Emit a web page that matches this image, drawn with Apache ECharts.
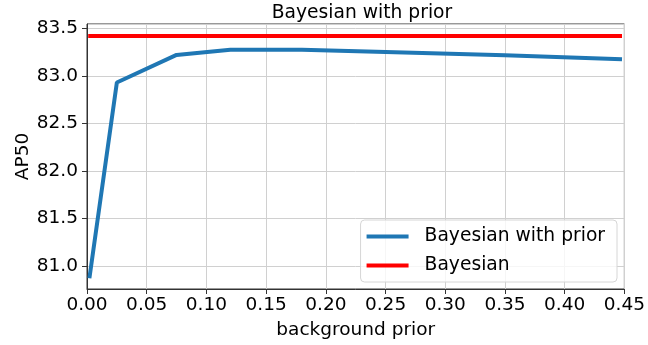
<!DOCTYPE html>
<html>
<head>
<meta charset="utf-8">
<script src="https://cdn.jsdelivr.net/npm/echarts@6/dist/echarts.min.js"></script>
<style>
  html, body { margin: 0; padding: 0; background: #fff; }
  #chart { width: 648px; height: 345px; }
</style>
</head>
<body>
<div id="chart"></div>
<script>
// background prior values on the x axis
var priorX = [0.002, 0.025, 0.075, 0.12, 0.18, 0.25, 0.35, 0.448];
// AP50 for the "with prior" run
var withPriorAP = [80.87, 82.93, 83.22, 83.275, 83.275, 83.25, 83.215, 83.175];
// plain Bayesian baseline (constant)
var baselineX = [0.001, 0.448];
var baselineAP = [83.42, 83.42];

var FONT = 'DejaVu Sans';

function pairs(xs, ys) {
    var arr = [];
    for (var i = 0; i < xs.length; i++) {
        arr.push([xs[i], ys[i]]);
    }
    return arr;
}

var chart = echarts.init(document.getElementById('chart'), null, { renderer: 'canvas' });

var option = {
    animation: false,
    backgroundColor: '#fff',
    title: {
        text: 'Bayesian with prior',
        left: 357,
        top: -1,
        textAlign: 'center',
        textStyle: { fontFamily: FONT, fontSize: 18.7, fontWeight: 'normal', color: '#000' }
    },
    grid: {
        left: 87,
        right: 22,
        top: 24,
        bottom: 53,
        show: true,
        borderColor: '#333',
        borderWidth: 1,
        backgroundColor: 'transparent'
    },
    legend: {
        orient: 'vertical',
        right: 31,
        top: 220,
        icon: 'rect',
        itemWidth: 42,
        itemHeight: 4,
        itemGap: 8,
        padding: [6, 12, 6, 6],
        backgroundColor: 'rgba(255,255,255,0.8)',
        borderColor: '#d6d6d6',
        borderWidth: 1,
        borderRadius: 4,
        textStyle: { fontFamily: FONT, fontSize: 18.7, color: '#000', lineHeight: 21, padding: [0, 0, 0, 11] },
        data: ['Bayesian with prior', 'Bayesian']
    },
    xAxis: {
        type: 'value',
        min: 0,
        max: 0.45,
        interval: 0.05,
        name: 'background prior',
        nameLocation: 'middle',
        nameGap: 32,
        nameMoveOverlap: false,
        nameTextStyle: { fontFamily: FONT, fontSize: 18.5, color: '#000' },
        axisLine: { show: true, lineStyle: { color: '#333', width: 1 } },
        axisTick: { show: true, length: 5, lineStyle: { color: '#333' } },
        axisLabel: {
            fontFamily: FONT, fontSize: 18.5, color: '#000', margin: 7,
            formatter: function (v) { return v.toFixed(2); }
        },
        splitLine: { show: true, lineStyle: { color: '#d0d0d0', width: 1 } }
    },
    yAxis: {
        type: 'value',
        min: 80.757,
        max: 83.545,
        splitNumber: 5,
        name: 'AP50',
        nameLocation: 'middle',
        nameGap: 54,
        nameMoveOverlap: false,
        nameTextStyle: { fontFamily: FONT, fontSize: 18.5, color: '#000' },
        axisLine: { show: true, lineStyle: { color: '#333', width: 1 } },
        axisTick: { show: true, length: 5, lineStyle: { color: '#333' } },
        axisLabel: {
            fontFamily: FONT, fontSize: 18.5, color: '#000', margin: 9,
            showMinLabel: false, showMaxLabel: false,
            formatter: function (v) {
                if (Math.abs(v * 2 - Math.round(v * 2)) > 1e-6) return '';
                return v.toFixed(1);
            }
        },
        splitLine: { show: true, lineStyle: { color: '#d0d0d0', width: 1 } }
    },
    series: [
        {
            name: 'Bayesian with prior',
            type: 'line',
            data: pairs(priorX, withPriorAP),
            symbol: 'none',
            color: '#1f77b4',
            lineStyle: { color: '#1f77b4', width: 4 },
            z: 3
        },
        {
            name: 'Bayesian',
            type: 'line',
            data: pairs(baselineX, baselineAP),
            symbol: 'none',
            color: '#ff0000',
            lineStyle: { color: '#ff0000', width: 4 },
            z: 3
        }
    ]
};

chart.setOption(option);
</script>
</body>
</html>
